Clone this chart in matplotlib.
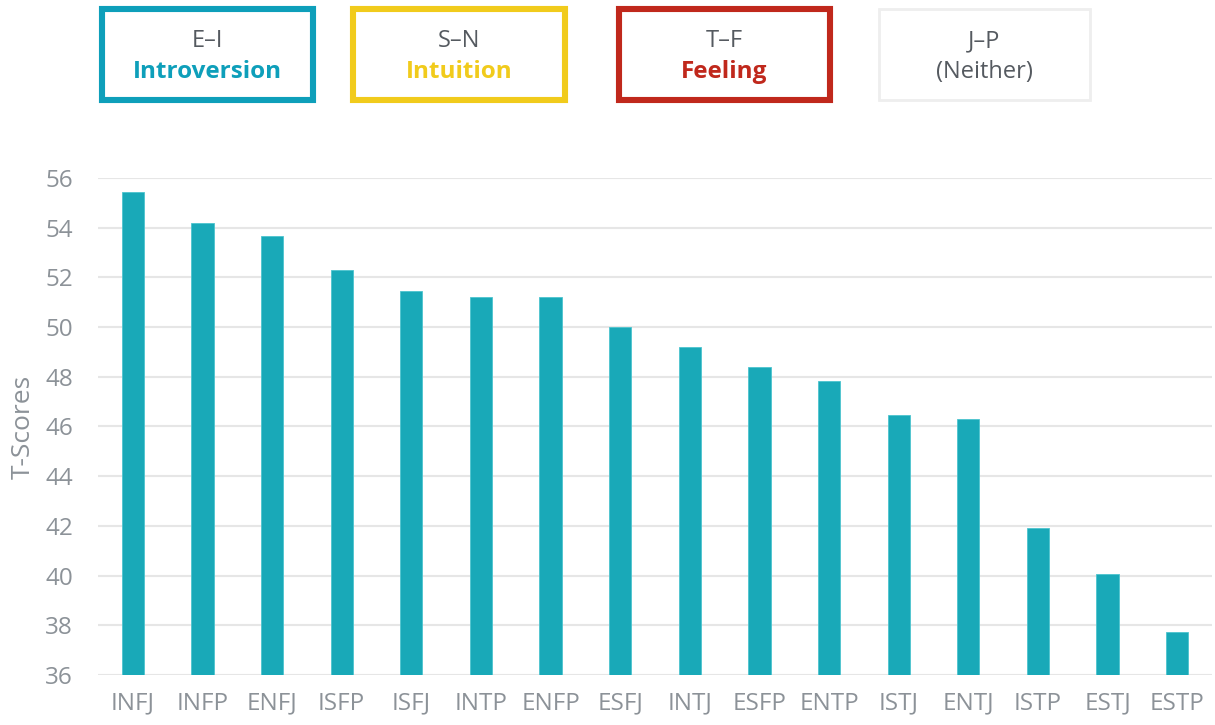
import matplotlib
matplotlib.use("Agg")
import matplotlib.pyplot as plt
from matplotlib.patches import Rectangle

types = ["INFJ", "INFP", "ENFJ", "ISFP", "ISFJ", "INTP", "ENFP", "ESFJ",
         "INTJ", "ESFP", "ENTP", "ISTJ", "ENTJ", "ISTP", "ESTJ", "ESTP"]
t_scores = [55.45, 54.2, 53.65, 52.3, 51.45, 51.2, 51.2, 50.0,
            49.2, 48.4, 47.85, 46.45, 46.3, 41.93, 40.08, 37.73]
y_ticks = [36, 38, 40, 42, 44, 46, 48, 50, 52, 54, 56]

dims = ["E–I", "S–N", "T–F", "J–P"]
results = ["Introversion", "Intuition", "Feeling", "(Neither)"]
dim_colors = ["#0e9fba", "#f1cb1c", "#c0281c", "#eeeeee"]

plt.rcParams['font.family'] = ['Open Sans', 'DejaVu Sans']

W, H = 1215, 725
fig = plt.figure(figsize=(W / 100, H / 100), dpi=100)
ax = fig.add_axes([98 / W, 1 - 675 / H, (1212 - 98) / W, (675 - 178) / H])

bar_color = "#19a9b8"
x = list(range(len(types)))
ax.bar(x, [v - 36 for v in t_scores], bottom=36, width=0.32, color=bar_color,
       edgecolor="#4cc4cf", linewidth=0.6, zorder=3)
ax.set_xlim(-0.5, len(types) - 0.5)
ax.set_ylim(36, 56)
ax.set_yticks(y_ticks)
ax.set_xticks(x)
ax.set_xticklabels(types)
ax.grid(axis="y", color="#e6e6e6", linewidth=1.5, zorder=0)
for s in ax.spines.values():
    s.set_visible(False)
ax.tick_params(axis="both", length=0, labelsize=17.5, colors="#8c9298")
ax.tick_params(axis="y", pad=18)
ax.tick_params(axis="x", pad=12)
ax.set_ylabel("T-Scores", fontsize=19, color="#8c9298")
ax.yaxis.set_label_coords(-62 / (1212 - 98), 0.5)

# header boxes
boxes = [(102, 313), (353, 565), (619, 830), (879, 1090)]
lws = [4.4, 4.4, 4.4, 2.0]
for (x0, x1), d, r, c, lw in zip(boxes, dims, results, dim_colors, lws):
    top, bot = 9, 100
    rect = Rectangle((x0 / W, 1 - bot / H), (x1 - x0) / W, (bot - top) / H,
                     transform=fig.transFigure, fill=False, edgecolor=c,
                     linewidth=lw)
    fig.add_artist(rect)
    cx = (x0 + x1) / 2 / W
    fig.text(cx, 1 - 41 / H, d, ha="center", va="center", fontsize=17,
             color="#555a60")
    if r == "(Neither)":
        fig.text(cx, 1 - 72 / H, r, ha="center", va="center", fontsize=17,
                 color="#555a60")
    else:
        fig.text(cx, 1 - 72 / H, r, ha="center", va="center", fontsize=17.5,
                 color=c, fontweight="bold")

fig.savefig("out.png", dpi=100)
